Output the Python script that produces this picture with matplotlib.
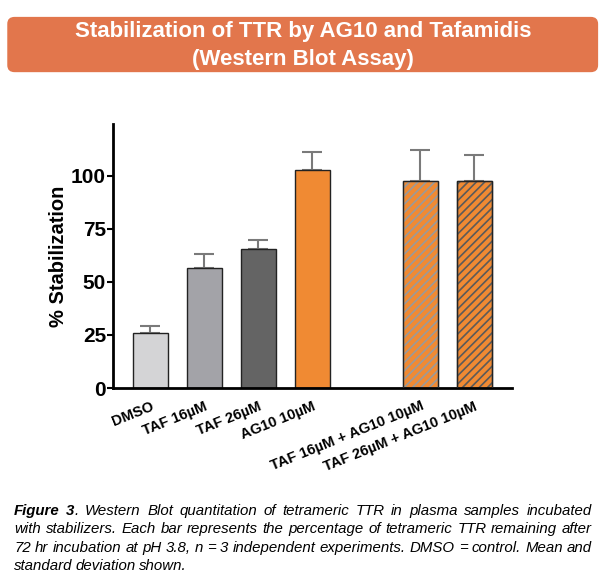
import matplotlib
matplotlib.use('Agg')
import matplotlib.pyplot as plt
from matplotlib.patches import FancyBboxPatch
import numpy as np

plt.rcParams['font.family'] = ['Liberation Sans', 'DejaVu Sans']
plt.rcParams['hatch.linewidth'] = 1.2

# Data
groups = ['DMSO', 'TAF 16µM', 'TAF 26µM', 'AG10 10µM',
          'TAF 16µM + AG10 10µM', 'TAF 26µM + AG10 10µM']
positions = [0, 1, 2, 3, 5, 6]
means = [26, 56.5, 65.5, 103, 97.5, 97.5]
sds = [3.2, 6.8, 4.5, 8.5, 14.8, 12.5]
colors = ['#d4d4d6', '#a3a3a8', '#646464', '#f08a33', '#f08a33', '#f08a33']
hatches = [None, None, None, None, '////', '////']
hatch_colors = [None, None, None, None, '#9a9a9a', '#5a5a5a']

caption_lines = [
    'Figure 3. Western Blot quantitation of tetrameric TTR in plasma samples incubated',
    'with stabilizers. Each bar represents the percentage of tetrameric TTR remaining after',
    '72 hr incubation at pH 3.8, n = 3 independent experiments. DMSO = control. Mean and',
    'standard deviation shown.',
]

fig = plt.figure(figsize=(6.06, 5.82), dpi=100)

# title banner
banner = FancyBboxPatch((0.012, 0.876), 0.975, 0.095, boxstyle='round,pad=0,rounding_size=0.012',
                        transform=fig.transFigure, facecolor='#e2764c', edgecolor='none')
fig.patches.append(banner)
fig.text(0.5, 0.946, 'Stabilization of TTR by AG10 and Tafamidis', ha='center', va='center',
         color='white', fontsize=16, fontweight='bold')
fig.text(0.5, 0.898, '(Western Blot Assay)', ha='center', va='center',
         color='white', fontsize=16, fontweight='bold')

ax = fig.add_axes([0.1865, 0.3333, 0.6585, 0.4537])

for x, m, s, c, h, hc in zip(positions, means, sds, colors, hatches, hatch_colors):
    bar = ax.bar(x, m, width=0.65, color=c, edgecolor='#222222', linewidth=1.0, zorder=2)
    if h:
        bar[0].set_hatch(h)
        bar[0].set_edgecolor(hc)
        ax.bar(x, m, width=0.65, fill=False, edgecolor='#222222', linewidth=1.0, zorder=3)
    ax.errorbar(x, m, yerr=[[0], [s]], fmt='none', ecolor='#7a7a7a', elinewidth=1.5,
                capsize=7, capthick=1.5, zorder=1)

ax.set_xlim(-0.69, 6.7)
ax.set_ylim(0, 124.5)
ax.set_yticks([0, 25, 50, 75, 100])
ax.set_yticklabels(['0', '25', '50', '75', '100'], fontsize=15, fontweight='bold')
ax.set_ylabel('% Stabilization', fontsize=14.5, fontweight='bold', labelpad=2)
ax.set_xticks(positions)
ax.set_xticklabels(groups, rotation=22, ha='right', rotation_mode='anchor',
                   fontsize=10.5, fontweight='bold')
ax.tick_params(axis='x', length=0, pad=8)
ax.tick_params(axis='y', length=4, width=1.5, pad=1)
for sp in ['top', 'right']:
    ax.spines[sp].set_visible(False)
for sp in ['left', 'bottom']:
    ax.spines[sp].set_linewidth(2)

# caption, justified between left and right margins
left, right = 14, 592
y0 = 0.122
dy = 0.0315
fs = 10.8
renderer = fig.canvas.get_renderer()
for i, line in enumerate(caption_lines):
    y = y0 - i * dy
    # each word may hold bold and normal pieces glued together
    words = []
    for w in line.split(' '):
        if i == 0 and w in ('Figure', '3.'):
            pieces = [('Figure', 'bold')] if w == 'Figure' else [('3', 'bold'), ('.', 'normal')]
        else:
            pieces = [(w, 'normal')]
        words.append([(fig.text(0, y, p, fontsize=fs, style='italic', fontweight=wt, va='center'))
                      for p, wt in pieces])
    widths = [[t.get_window_extent(renderer).width for t in ws] for ws in words]
    total = sum(sum(ws) for ws in widths)
    if i < len(caption_lines) - 1:
        gap = (right - left - total) / (len(words) - 1)
    else:
        gap = fs * 0.28
    xpos = left
    for ws, wd in zip(words, widths):
        for t, w in zip(ws, wd):
            t.set_x(xpos / 606)
            xpos += w
        xpos += gap

fig.savefig('out.png', dpi=100)
